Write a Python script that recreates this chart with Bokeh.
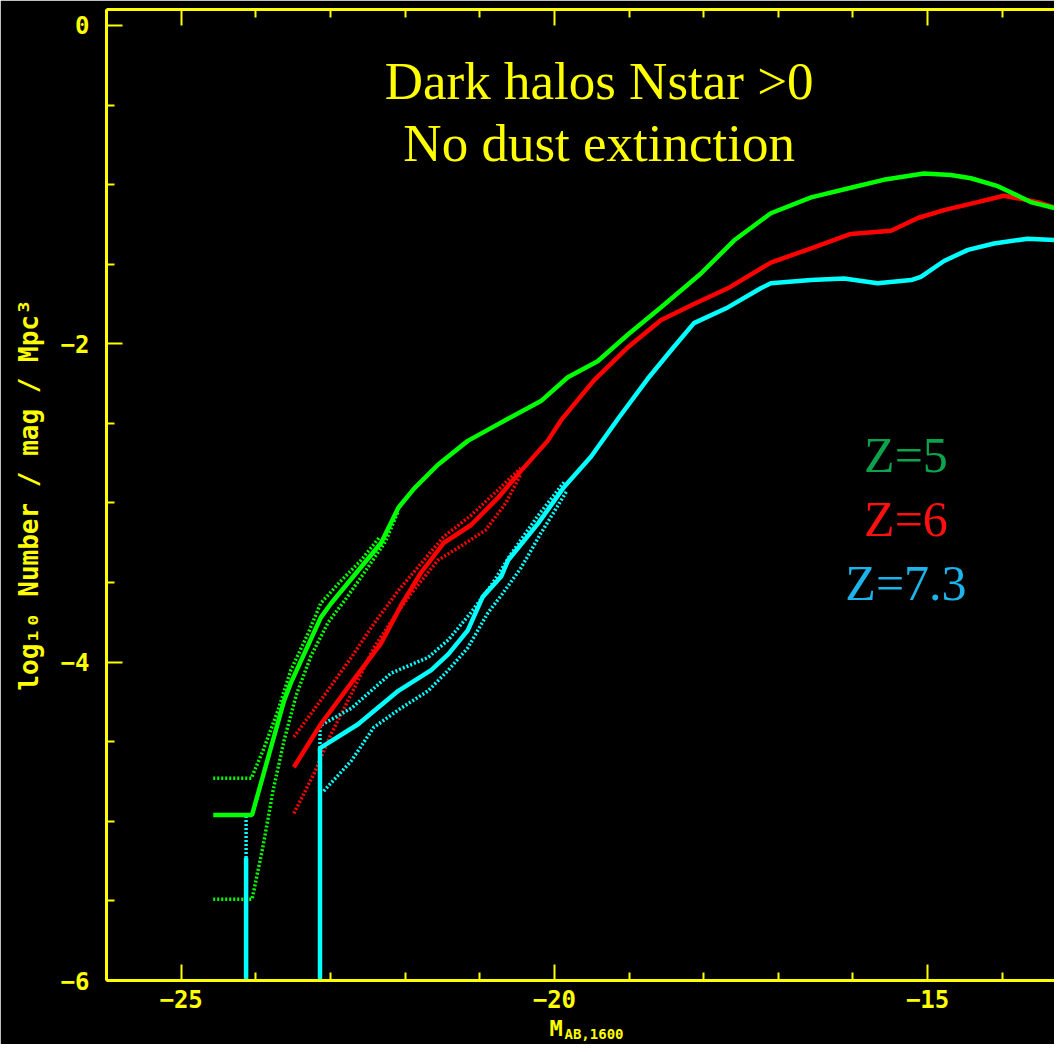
from bokeh.plotting import figure
from bokeh.models import Range1d, FixedTicker, LinearAxis, Label, Title
from bokeh.embed import file_html
from bokeh.resources import INLINE

nan = float("nan")

# ---- data ----
# Z=5 (green): main curve and its upper / lower envelope
z5_mag = [-24.57, -24.05, -23.62, -23.53, -23.13, -22.99, -22.55, -22.32, -22.09, -21.88,
          -21.56, -21.16, -20.85, -20.54, -20.18, -19.82, -19.42, -19.01, -18.57, -18.04,
          -17.59, -17.10, -16.56, -16.03, -15.59, -15.05, -14.69, -14.42, -14.06, -13.79,
          -13.62, -13.19, -13.0]
z5_logn = [-4.96, -4.96, -4.24, -4.13, -3.72, -3.63, -3.38, -3.25, -3.03, -2.91,
           -2.76, -2.61, -2.53, -2.45, -2.36, -2.21, -2.11, -1.94, -1.77, -1.56,
           -1.35, -1.18, -1.08, -1.02, -0.97, -0.93, -0.94, -0.96, -1.01, -1.07,
           -1.11, -1.16, -1.19]
z5_hi_mag = [-24.57, -24.06, -23.89, -23.70, -23.53, -23.30, -23.13, -22.86, -22.59, -22.35]
z5_hi_logn = [-4.73, -4.73, -4.54, -4.30, -4.05, -3.82, -3.63, -3.49, -3.36, -3.22]
z5_lo_mag = [-24.57, -24.05, -23.90, -23.77, -23.62, -23.46, -23.26, -23.03, -22.79, -22.52,
             -22.26, -22.09]
z5_lo_logn = [-5.49, -5.49, -5.15, -4.81, -4.49, -4.21, -3.96, -3.75, -3.60, -3.42,
              -3.24, -3.05]

# Z=6 (red)
z6_mag = [-23.49, -23.13, -22.72, -22.32, -22.05, -21.79, -21.48, -21.12, -20.76, -20.45,
          -20.09, -19.91, -19.47, -19.01, -18.57, -18.13, -17.67, -17.10, -16.56, -16.03,
          -15.49, -15.13, -14.78, -14.33, -13.98, -13.52, -13.19, -13.0]
z6_logn = [-4.66, -4.39, -4.13, -3.88, -3.64, -3.44, -3.25, -3.14, -2.97, -2.80,
           -2.61, -2.48, -2.23, -2.02, -1.85, -1.75, -1.65, -1.49, -1.40, -1.31,
           -1.29, -1.21, -1.16, -1.11, -1.07, -1.11, -1.16, -1.19]
z6_hi_mag = [-23.49, -23.13, -22.72, -22.42, -22.09, -21.75, -21.48, -21.12, -20.76, -20.45]
z6_hi_logn = [-4.47, -4.24, -3.97, -3.76, -3.55, -3.36, -3.21, -3.08, -2.92, -2.78]
z6_lo_mag = [-23.49, -23.22, -22.99, -22.72, -22.42, -22.15, -21.92, -21.56, -21.25, -20.92,
             -20.65, -20.45]
z6_lo_logn = [-4.95, -4.70, -4.45, -4.20, -3.91, -3.72, -3.57, -3.36, -3.27, -3.17,
              -3.00, -2.82]

# Z=7.3 (cyan) ; -6 marks bins with no objects (log of zero)
z73_mag = [-24.13, -24.13, nan, -23.14, -23.14, -22.63, -22.09, -21.65, -21.42, -21.16,
           -20.96, -20.71, -20.62, -20.22, -19.87, -19.51, -19.13, -18.75, -18.40, -18.13,
           -17.67, -17.23, -17.10, -16.56, -16.12, -15.67, -15.22, -15.09, -14.78, -14.46,
           -14.11, -13.66, -13.19, -13.0]
z73_logn = [-6.0, -5.23, nan, -6.0, -4.54, -4.39, -4.18, -4.05, -3.95, -3.80,
            -3.59, -3.46, -3.36, -3.13, -2.90, -2.71, -2.46, -2.22, -2.02, -1.87,
            -1.77, -1.65, -1.62, -1.60, -1.59, -1.62, -1.60, -1.58, -1.48, -1.41,
            -1.37, -1.34, -1.35, -1.36]
z73_hi_mag = [-24.13, -24.13, nan, -23.14, -23.14, -22.72, -22.19, -21.69, -21.42, -21.12,
              -20.85, -20.58, -20.22, -19.87]
z73_hi_logn = [-5.23, -4.96, nan, -4.54, -4.40, -4.29, -4.07, -3.97, -3.86, -3.69,
               -3.52, -3.32, -3.08, -2.87]
z73_lo_mag = [-23.09, -22.72, -22.42, -22.09, -21.69, -21.42, -21.16, -20.89, -20.71, -20.45,
              -20.18, -19.84]
z73_lo_logn = [-4.81, -4.62, -4.41, -4.30, -4.18, -4.05, -3.91, -3.69, -3.58, -3.41,
               -3.19, -2.93]

x_major = [-25, -20, -15]
x_minor = [-26, -24, -23, -22, -21, -19, -18, -17, -16, -14, -13]
y_major = [0, -2, -4, -6]
y_minor = [-0.5, -1, -1.5, -2.5, -3, -3.5, -4.5, -5, -5.5]

title_lines = ["Dark halos Nstar >0", "No dust extinction"]
z_labels = ["Z=5", "Z=6", "Z=7.3"]

# ---- styling ----
YEL = "#ffff00"
GREEN = "#00ff00"
RED = "#ff0000"
CYAN = "#00ffff"
MONO = "DejaVu Sans Mono"
SERIF = "Liberation Serif"

p = figure(width=1054, height=1044, x_range=Range1d(-26, -13.30), y_range=Range1d(-6, 0.1),
           output_backend="svg", toolbar_location=None,
           min_border_left=106, min_border_right=0, min_border_top=9, min_border_bottom=64,
           background_fill_color="black", border_fill_color="black",
           outline_line_color=None)
p.grid.visible = False

bottom = p.below[0]
left = p.left[0]
top = LinearAxis()
p.add_layout(top, "above")

for ax in [bottom, top]:
    ax.ticker = FixedTicker(ticks=x_major, minor_ticks=x_minor)
left.ticker = FixedTicker(ticks=y_major, minor_ticks=y_minor)

for ax in [bottom, left, top]:
    ax.axis_line_color = YEL
    ax.axis_line_width = 3
    ax.major_tick_line_color = YEL
    ax.minor_tick_line_color = YEL
    ax.major_tick_line_width = 2
    ax.minor_tick_line_width = 2
    ax.major_tick_in = 16
    ax.major_tick_out = 0
    ax.minor_tick_in = 8
    ax.minor_tick_out = 0
    ax.major_label_text_color = YEL
    ax.major_label_text_font = MONO
    ax.major_label_text_font_style = "bold"
    ax.major_label_text_font_size = "24px"

top.major_label_overrides = {-25: "", -20: "", -15: ""}
top.major_label_text_font_size = "2px"
top.major_label_standoff = 0

bottom.major_label_standoff = 9
left.major_label_standoff = 17
left.axis_label = "log₁₀ Number / mag / Mpc³"
left.axis_label_text_color = YEL
left.axis_label_text_font = MONO
left.axis_label_text_font_style = "bold"
left.axis_label_text_font_size = "26px"
left.axis_label_standoff = 14

# x-axis title: M with subscript AB,1600
p.add_layout(Title(text="M", align="left", offset=443, standoff=6, vertical_align="bottom",
                   text_color=YEL, text_font=MONO, text_font_style="bold",
                   text_font_size="22px"), "below")
p.add_layout(Title(text="AB,1600", align="left", offset=458, standoff=-36, vertical_align="top",
                   text_color=YEL, text_font=MONO, text_font_style="bold",
                   text_font_size="14px"), "below")

# ---- curves ----
def band(xs, ys, color):
    p.line(xs, ys, line_color=color, line_width=3.5, line_dash="2 2")

band(z5_hi_mag, z5_hi_logn, GREEN)
band(z5_lo_mag, z5_lo_logn, GREEN)
band(z6_hi_mag, z6_hi_logn, RED)
band(z6_lo_mag, z6_lo_logn, RED)
band(z73_hi_mag, z73_hi_logn, CYAN)
band(z73_lo_mag, z73_lo_logn, CYAN)

p.line(z73_mag, z73_logn, line_color=CYAN, line_width=4.5)
p.line(z6_mag, z6_logn, line_color=RED, line_width=4.5)
p.line(z5_mag, z5_logn, line_color=GREEN, line_width=4.5)

# ---- texts ----
for txt, yy in zip(title_lines, [-0.351, -0.741]):
    p.add_layout(Label(x=-19.40, y=yy, text=txt, text_align="center", text_baseline="alphabetic",
                       text_color=YEL, text_font=SERIF, text_font_size="53px"))

for txt, yy, col in zip(z_labels, [-2.701, -3.103, -3.505], ["#0ba34c", "#ff1010", "#1cb4ea"]):
    p.add_layout(Label(x=-15.29, y=yy, text=txt, text_align="center", text_baseline="alphabetic",
                       text_color=col, text_font=SERIF, text_font_size="50px"))

open("out.html", "w").write(file_html(p, INLINE))
